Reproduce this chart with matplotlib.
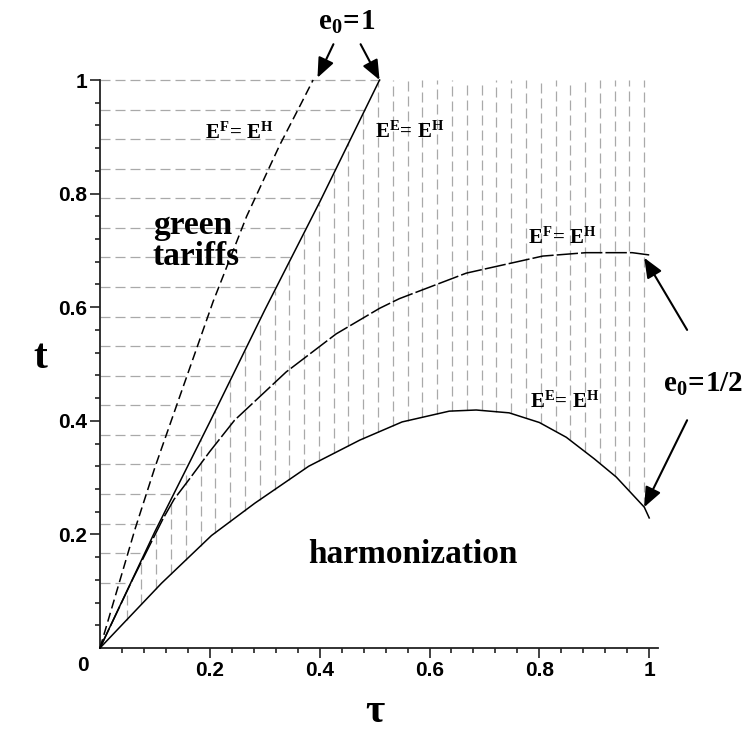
import numpy as np
import matplotlib.pyplot as plt

plt.rcParams['mathtext.fontset'] = 'custom'
plt.rcParams['mathtext.rm'] = 'Liberation Serif'
plt.rcParams['mathtext.bf'] = 'Liberation Serif:bold'
plt.rcParams['mathtext.it'] = 'Liberation Serif:italic'

# e0 = 1, E^F = E^H  (dashed)
f1_tau = [0, 0.064, 0.100, 0.146, 0.206, 0.267, 0.327, 0.367, 0.388]
f1_t = [0, 0.210, 0.318, 0.445, 0.610, 0.760, 0.885, 0.960, 1.0]
# e0 = 1, E^E = E^H  (solid)
e1_tau = [0, 0.100, 0.200, 0.300, 0.400, 0.509]
e1_t = [0, 0.205, 0.398, 0.595, 0.785, 1.0]
# e0 = 1/2, E^F = E^H
f2_tau = [0, 0.060, 0.115, 0.135, 0.164, 0.200, 0.245, 0.339, 0.430, 0.509,
          0.545, 0.667, 0.806, 0.885, 0.969, 1.0]
f2_t = [0, 0.122, 0.228, 0.262, 0.299, 0.346, 0.401, 0.486, 0.553, 0.598,
        0.615, 0.660, 0.690, 0.696, 0.696, 0.692]
# e0 = 1/2, E^E = E^H
e2_tau = [0, 0.112, 0.203, 0.282, 0.380, 0.473, 0.550, 0.636, 0.685, 0.745,
          0.800, 0.849, 0.900, 0.940, 0.991, 1.0]
e2_t = [0, 0.114, 0.198, 0.255, 0.320, 0.366, 0.398, 0.417, 0.419, 0.414,
        0.397, 0.371, 0.333, 0.301, 0.248, 0.229]

x_ticks = [0.2, 0.4, 0.6, 0.8, 1.0]
x_labels = ['0.2', '0.4', '0.6', '0.8', '1']
y_ticks = [0.2, 0.4, 0.6, 0.8, 1.0]
y_labels = ['0.2', '0.4', '0.6', '0.8', '1']

fig = plt.figure(figsize=(7.48, 7.33), dpi=100)
ax = fig.add_axes([100/748, 85/733, 558/748, 568/733])
ax.set_xlim(0, 1.016)
ax.set_ylim(0, 1)

hatch = '#a9a9a9'
# horizontal hatching: green tariffs region (left of E^E = E^H, e0=1)
h_t = np.linspace(0.115, 1.0, 18)
h_right = np.interp(h_t, e1_t, e1_tau)
ax.hlines(h_t, 0, h_right, colors=hatch, lw=0.9, linestyles=(0, (8, 4)),
          clip_on=False, zorder=1)
# vertical hatching: between lower curve and the e0=1 E^E line
v_tau = np.linspace(0.0485, 0.991, 36)
v_bot = np.interp(v_tau, e2_tau, e2_t)
v_top = np.minimum(np.interp(v_tau, e1_tau, e1_t), 1.0)
ax.vlines(v_tau, v_bot, v_top, colors=hatch, lw=0.9, linestyles=(0, (8, 4)),
          clip_on=False, zorder=1)

ax.plot(f1_tau, f1_t, color='k', lw=1.1, dashes=(6, 3), clip_on=False, zorder=3)
ax.plot(e1_tau, e1_t, color='k', lw=1.1, clip_on=False, zorder=3)
ax.plot(f2_tau, f2_t, color='k', lw=1.1, dashes=(14, 2), clip_on=False, zorder=3)
ax.plot(e2_tau, e2_t, color='k', lw=1.1, clip_on=False, zorder=3)

# axes
for s in ['right', 'top']:
    ax.spines[s].set_visible(False)
for s in ['left', 'bottom']:
    ax.spines[s].set_linewidth(1.3)
    ax.spines[s].set_color('#222222')

minor = [k * 0.04 for k in range(1, 26) if k % 5 != 0]
ax.set_xticks(x_ticks)
ax.set_xticklabels(x_labels)
ax.set_yticks(y_ticks)
ax.set_yticklabels(y_labels)
ax.set_xticks(minor, minor=True)
ax.set_yticks(minor, minor=True)
ax.tick_params(which='major', direction='out', length=7, width=1.2, pad=2,
               colors='#222222')
ax.tick_params(which='minor', direction='out', length=3.5, width=1.2,
               colors='#222222')
for lab in ax.get_xticklabels() + ax.get_yticklabels():
    lab.set_fontfamily('Liberation Sans')
    lab.set_fontweight('bold')
    lab.set_fontsize(15)
    lab.set_color('k')
ax.text(-0.031, -0.03, '0', ha='center', va='center', fontsize=15,
        fontweight='bold', family='Liberation Sans', clip_on=False)

serif = dict(family='Liberation Serif', fontweight='bold', color='k')
ax.text(-0.109, 0.511, 't', ha='center', va='center', fontsize=30, **serif)
ax.text(0.5, -0.113, 'τ', ha='center', va='center', fontsize=30, **serif)

ax.text(0.2545, 0.908, r'$\mathbf{E^F\!=\,E^H}$', ha='center', va='center', fontsize=15)
ax.text(0.5636, 0.910, r'$\mathbf{E^E\!=\,E^H}$', ha='center', va='center', fontsize=15)
ax.text(0.842, 0.7236, r'$\mathbf{E^F\!=\,E^H}$', ha='center', va='center', fontsize=15)
ax.text(0.847, 0.435, r'$\mathbf{E^E\!=\,E^H}$', ha='center', va='center', fontsize=15)

ax.text(0.0964, 0.7165, 'green\ntariffs', ha='left', va='center', fontsize=24,
        linespacing=1.0, **serif)
ax.text(0.569, 0.164, 'harmonization', ha='center', va='center', fontsize=24, **serif)

ax.text(0.449, 1.102, r'$\mathbf{e_0\!=\!1}$', ha='center', va='center', fontsize=21,
        clip_on=False)
ax.text(1.098, 0.465, r'$\mathbf{e_0\!=\!1/2}$', ha='center', va='center', fontsize=21,
        clip_on=False)

arrow = dict(arrowstyle='-|>,head_length=0.6,head_width=0.25', color='k', lw=1.5,
             mutation_scale=20, shrinkA=0, shrinkB=0)
ax.annotate('', xy=(0.396, 1.004), xytext=(0.425, 1.063), arrowprops=arrow,
            annotation_clip=False)
ax.annotate('', xy=(0.509, 1.0), xytext=(0.4745, 1.063), arrowprops=arrow,
            annotation_clip=False)
ax.annotate('', xy=(0.991, 0.687), xytext=(1.069, 0.560), arrowprops=arrow,
            annotation_clip=False)
ax.annotate('', xy=(0.991, 0.248), xytext=(1.069, 0.401), arrowprops=arrow,
            annotation_clip=False)

fig.savefig('out.png', dpi=100)
